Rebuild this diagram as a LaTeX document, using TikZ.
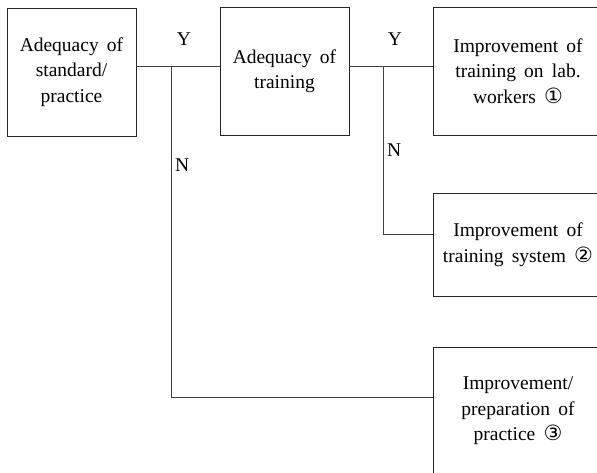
\documentclass[tikz,border=0pt]{standalone}
\usepackage{fontspec}
\setmainfont{Liberation Serif}
\newfontfamily\circfont{DejaVu Sans}
\usepackage{tikz}
\usetikzlibrary{positioning}
\newcommand{\diafont}{\fontsize{19.5}{25.5}\selectfont\spaceskip=0.42em\relax}
\newcommand{\cnum}[1]{{\circfont\fontsize{21}{25.5}\selectfont #1}}

\begin{document}
\begin{tikzpicture}[
  x=1pt, y=-1pt,
  font=\diafont,
  box/.style={rectangle, draw=black!85, line width=0.9pt, align=center,
              inner sep=0pt, minimum width=129pt, minimum height=128pt},
  wbox/.style={box, minimum width=170pt},
  link/.style={draw=black!75, line width=0.8pt},
  yn/.style={inner sep=0pt},
]
\clip (0,0) rectangle (597,473);
\useasboundingbox (0,0) rectangle (597,473);

% ================= the two checks
\node[box] (std) at (71.5,72)  {Adequacy of\\standard/\\practice};
\node[box] (trn) at (284.5,71) {Adequacy of\\training};

% ================= the three improvements
\node[wbox] (imp1) at (518,71)  {Improvement of\\training on lab.\\workers \cnum{①}};
\node[wbox, minimum height=103pt] (imp2) at (518,244.5)
  {Improvement of\\training system \cnum{②}};
\node[wbox] (imp3) at (518,411) {Improvement/\\preparation of\\practice \cnum{③}};

% ================= branch points
\coordinate (j1) at (171,66);
\coordinate (j2) at (383,66);
\coordinate (k1) at (171,397);
\coordinate (k2) at (383,234);

\draw[link] (std.east |- j1) -- (trn.west |- j1);
\draw[link] (trn.east |- j2) -- (imp1.west |- j2);
\draw[link] (j2) -- (k2) -- (k2 -| imp2.west);
\draw[link] (j1) -- (k1) -- (k1 -| imp3.west);

% ================= yes / no labels
\node[yn] (y1) at (184,39.5) {Y};
\node[yn] (y2) at (395,39.5) {Y};
\node[yn, anchor=west] (n1) at (175,165) {N};
\node[yn, anchor=west] (n2) at (387,150) {N};
\end{tikzpicture}
\end{document}
